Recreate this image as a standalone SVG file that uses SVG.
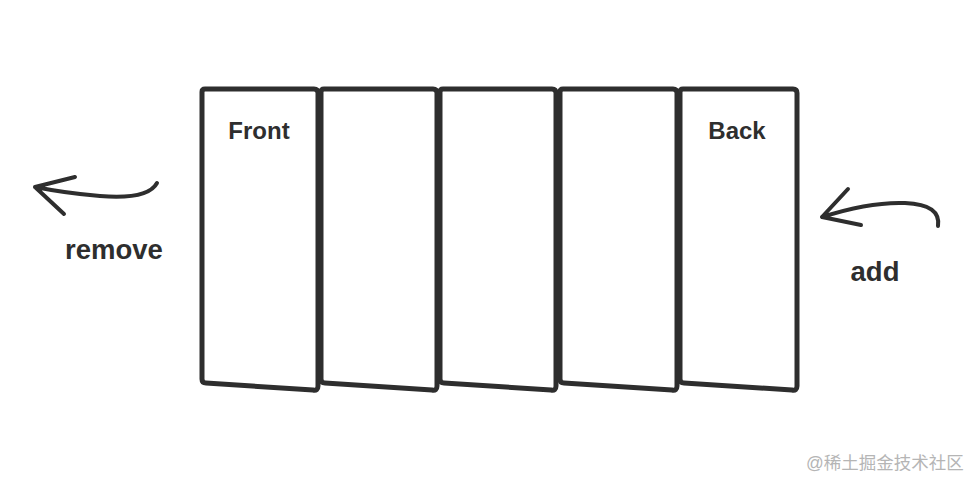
<svg xmlns="http://www.w3.org/2000/svg" width="973" height="478" viewBox="0 0 973 478">
<style>
.box{fill:#fff;stroke:#2e2e2e;stroke-width:5;stroke-linejoin:round}
.lbl{font-family:"Liberation Sans",Arial,sans-serif;font-weight:bold;fill:#2e2e2e;text-anchor:middle}
.arr{fill:none;stroke:#2e2e2e;stroke-width:4;stroke-linecap:round;stroke-linejoin:round}
.wm{font-family:"Liberation Sans","Noto Sans CJK SC",sans-serif;font-size:17.5px;fill:#b5b5b5}
</style>
<rect width="973" height="478" fill="#fff"/>
<g id="box1"><path class="box" d="M205 89 H314 Q318 89 318 93 V386 Q318 391 313 390 L206 383 Q202 383 202 379 V92 Q202 89 205 89 Z"/><text class="lbl" x="259" y="139" font-size="24">Front</text></g>
<g id="box2"><path class="box" d="M324 89 H433 Q437 89 437 93 V386 Q437 391 432 390 L325 383 Q321 383 321 379 V92 Q321 89 324 89 Z"/></g>
<g id="box3"><path class="box" d="M443 89 H552 Q556 89 556 93 V386 Q556 391 551 390 L444 383 Q440 383 440 379 V92 Q440 89 443 89 Z"/></g>
<g id="box4"><path class="box" d="M563 89 H673 Q677 89 677 93 V386 Q677 391 672 390 L564 383 Q560 383 560 379 V92 Q560 89 563 89 Z"/></g>
<g id="box5"><path class="box" d="M683 89 H793 Q797 89 797 93 V386 Q797 391 792 390 L684 383 Q680 383 680 379 V92 Q680 89 683 89 Z"/><text class="lbl" x="737" y="139" font-size="24">Back</text></g>
<g id="connectors">
<path class="arr" d="M157 183 C150 196 125 198 100 196 C75 194 55 191 35 187 M35 187 L75 177 M35 187 L64 214"/>
<path class="arr" d="M938 226 C940 212 930 204 905 203 C880 202 850 208 822 217 M822 217 L848 189 M822 217 L861 225"/>
</g>
<g id="labels">
<text class="lbl" x="114" y="259" font-size="27.5">remove</text>
<text class="lbl" x="875" y="281" font-size="27.5">add</text>
</g>
<text class="wm" x="806" y="469">@稀土掘金技术社区</text>
</svg>
